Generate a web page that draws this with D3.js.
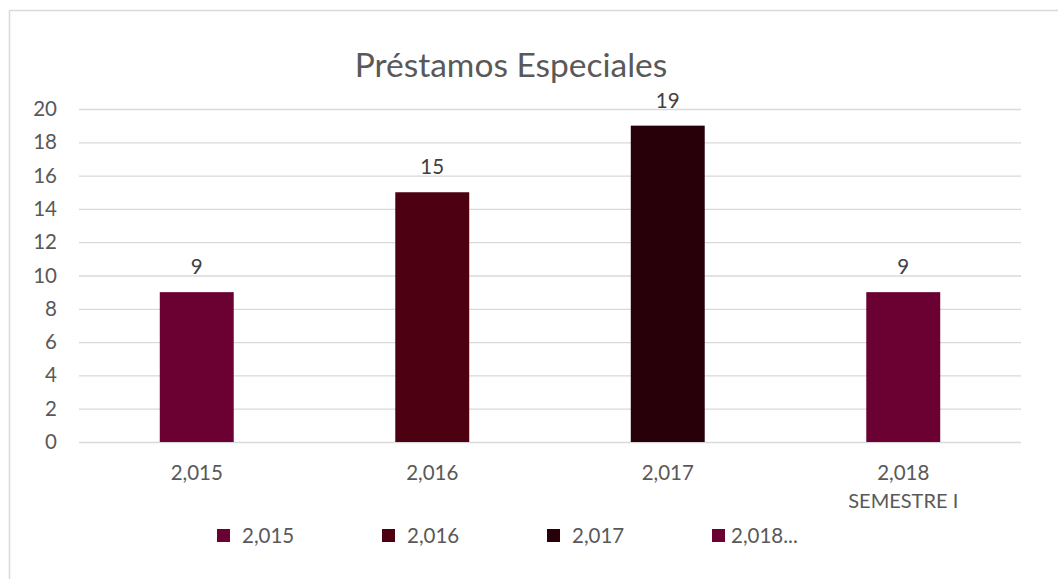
<!DOCTYPE html>
<html>
<head>
<meta charset="utf-8">
<script src="https://cdn.jsdelivr.net/npm/d3@7"></script>
<style>
  body { margin: 0; background: #fff; }
  text { font-family: Lato, "Open Sans", sans-serif; }
</style>
</head>
<body>
<svg id="chart" width="1058" height="579"></svg>
<script>
      // data
      var categories  = ["2,015", "2,016", "2,017", "2,018 SEMESTRE I"];
      var catLines    = [["2,015"], ["2,016"], ["2,017"], ["2,018", "SEMESTRE I"]];
      var values      = [9, 15, 19, 9];
      var barColors   = ["#6b0032", "#4d0011", "#270009", "#6b0032"];
      var legendNames = ["2,015", "2,016", "2,017", "2,018..."];
      var yTicks      = [0, 2, 4, 6, 8, 10, 12, 14, 16, 18, 20];

      var bar = d3.select("#chart");
      var margin = {top: 109, bottom: 137, left: 79, right: 37};
      var svgWidth = 1058, svgHeight = 579;
      var graphWidth  = svgWidth - margin.left - margin.right;
      var graphHeight = svgHeight - margin.top - margin.bottom;

      // chart frame (left + top edges visible)
      bar.append("line").attr("x1", 9.5).attr("y1", 10.5).attr("x2", 1058).attr("y2", 10.5)
         .style("stroke", "#d9d9d9").style("stroke-width", 1.5);
      bar.append("line").attr("x1", 9.5).attr("y1", 10.5).attr("x2", 9.5).attr("y2", 579)
         .style("stroke", "#d9d9d9").style("stroke-width", 1.5);

      var xScale = d3.scaleBand().domain(categories)
                     .range([margin.left, margin.left + graphWidth])
                     .paddingInner(0.686).paddingOuter(0.343);
      var yScale = d3.scaleLinear().domain([0, 20])
                     .range([margin.top + graphHeight, margin.top]);

      // title
      bar.append("text").attr("x", 511).attr("y", 77)
         .text("Préstamos Especiales")
         .style("font-size", "33.5px").style("fill", "#595959").style("text-anchor", "middle");

      // gridlines + y labels
      var yAxis = d3.axisLeft(yScale).tickValues(yTicks).tickSize(-graphWidth).tickPadding(22);
      var gy = bar.append("g").attr("transform", "translate(" + margin.left + ",0)").call(yAxis);
      gy.select(".domain").remove();
      gy.selectAll(".tick line").style("stroke", "#d9d9d9").style("stroke-width", 1.3);
      gy.selectAll(".tick text").style("font-size", "20.5px").style("fill", "#595959")
        .style("font-family", "Lato, 'Open Sans', sans-serif");

      // bars
      bar.selectAll("rect.bar").data(values).enter().append("rect").attr("class", "bar")
         .attr("x", function(d, i) { return xScale(categories[i]); })
         .attr("y", function(d) { return yScale(d); })
         .attr("width", xScale.bandwidth())
         .attr("height", function(d) { return yScale(0) - yScale(d); })
         .style("fill", function(d, i) { return barColors[i]; });

      // data labels
      bar.selectAll("text.lbl").data(values).enter().append("text").attr("class", "lbl")
         .attr("x", function(d, i) { return xScale(categories[i]) + xScale.bandwidth()/2; })
         .attr("y", function(d) { return yScale(d) - 18; })
         .text(function(d) { return d; })
         .style("font-size", "20.5px").style("fill", "#404040").style("text-anchor", "middle");

      // category labels
      catLines.forEach(function(lines, i) {
        var cx = xScale(categories[i]) + xScale.bandwidth()/2;
        lines.forEach(function(s, j) {
          bar.append("text").attr("x", cx).attr("y", 480 + j*28).text(s)
             .style("font-size", j == 0 ? "20.5px" : "20px").style("fill", "#595959").style("text-anchor", "middle");
        });
      });

      // legend
      var legX = [217, 382, 547, 712];
      var legGap = [12, 12, 12, 6];
      legendNames.forEach(function(s, i) {
        bar.append("rect").attr("x", legX[i]).attr("y", 529).attr("width", 13).attr("height", 13)
           .style("fill", barColors[i]);
        bar.append("text").attr("x", legX[i] + 13 + legGap[i]).attr("y", 543).text(s)
           .style("font-size", "20.5px").style("fill", "#595959");
      });
</script>
</body>
</html>
